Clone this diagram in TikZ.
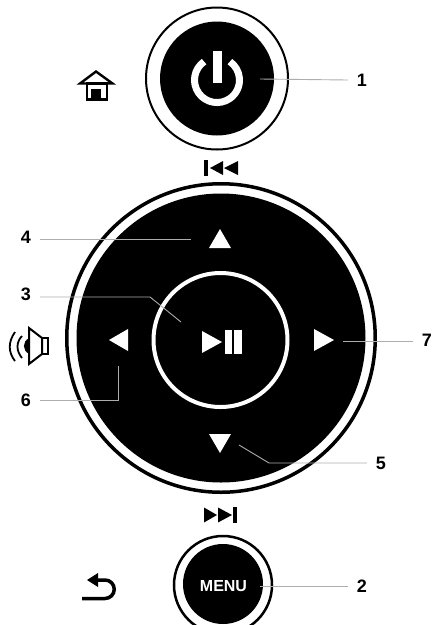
\documentclass[tikz,border=0pt]{standalone}
\usepackage{fontspec}
\setmainfont{Liberation Sans}
\tikzset{
  ring/.style={circle,draw=black,fill=white,inner sep=0pt,outer sep=0pt},
  pad/.style={circle,fill=black,inner sep=0pt,outer sep=0pt},
  callout/.style={draw=black!32,line width=0.9pt},
  num/.style={font=\bfseries\fontsize{18}{18}\selectfont,inner sep=0pt,outer sep=9pt},
  glyph/.style={fill=white,draw=none},
  icon/.style={fill=black,draw=none}
}
\begin{document}
\begin{tikzpicture}[x=1pt,y=-1pt]
  \useasboundingbox (0,0) rectangle (434,625);
  \clip (0,0) rectangle (434,625);
  % power button
  \node[ring,line width=2pt,minimum size=142pt] (powring) at (217,78.5) {};
  \node[pad,minimum size=114pt] (powpad) at (217,78.5) {};
  \draw[white,line width=7pt] (204.1,61.6) arc[start angle=235,end angle=-55,radius=22.5];
  \fill[glyph] (213,51) rectangle (222,83);
  % home
  \draw[line width=2.4pt,line join=miter] (80,83.5) -- (96,71.5) -- (112.5,83.5) -- cycle;
  \draw[line width=2.4pt] (87,83.5) rectangle (107,99.5);
  \fill[icon] (91,89) rectangle (101,99);
  % previous
  \fill[icon] (204,160) rectangle (208,176);
  \fill[icon] (210,168) -- (223,161) -- (223,175) -- cycle;
  \fill[icon] (224,168) -- (238,161) -- (238,175) -- cycle;
  % main wheel
  \node[ring,line width=3.5pt,minimum size=308.5pt] (wheel) at (221,338) {};
  \node[pad,minimum size=289pt] (wheelpad) at (221,338) {};
  \node[circle,draw=white,line width=4pt,minimum size=134pt,inner sep=0pt] (centre) at (220.5,340) {};
  \fill[glyph] (220,229) -- (231,248) -- (209,248) -- cycle;
  \fill[glyph] (220,453) -- (231,434) -- (209,434) -- cycle;
  \fill[glyph] (109,340) -- (128,329) -- (128,351) -- cycle;
  \fill[glyph] (334,340) -- (314,329) -- (314,351) -- cycle;
  \fill[glyph] (202,331) -- (222,342) -- (202,353) -- cycle;
  \fill[glyph] (225,330) rectangle (232,354);
  \fill[glyph] (234,330) rectangle (242,354);
  % speaker
  \fill[icon] (29.5,338) .. controls (22,341) and (22,351) .. (29.5,354) -- cycle;
  \draw[line width=2pt,line join=miter] (29,328) -- (42,338) -- (42,354) -- (29,364) -- cycle;
  \draw[line width=2pt] (42,338) rectangle (47.5,354);
  \draw[line width=1.8pt] (22,336) .. controls (16,342) and (16,351) .. (22,358);
  \draw[line width=1.8pt] (15,332) .. controls (8,342) and (8,352) .. (15,361);
  % next
  \fill[icon] (204,507.5) -- (217,515) -- (204,522.5) -- cycle;
  \fill[icon] (218,507.5) -- (232,515) -- (218,522.5) -- cycle;
  \fill[icon] (232.5,507) rectangle (237,523);
  % menu
  \node[ring,line width=2.5pt,minimum size=98pt] (menuring) at (223,585) {};
  \node[pad,minimum size=80pt] (menupad) at (223,584) {};
  \node[font=\bfseries\fontsize{16}{16}\selectfont,text=white,inner sep=0pt] (menu) at (223.5,586) {MENU};
  % back
  \fill[icon] (87,580) -- (98,573) -- (98,587) -- cycle;
  \draw[line width=3.5pt] (97,580) -- (105,580) arc[start angle=-90,end angle=90,radius=9.25] -- (82,598.5);
  % callouts
  \node[num] (n1) at (362,80) {1};
  \node[num] (n2) at (362,586) {2};
  \node[num] (n3) at (26,294) {3};
  \node[num] (n4) at (26,237) {4};
  \node[num] (n5) at (381,463) {5};
  \node[num] (n6) at (26,400) {6};
  \node[num] (n7) at (427,340) {7};
  \coordinate (c1) at (260,79);
  \coordinate (c2) at (260,586);
  \coordinate (c3) at (181,322);
  \coordinate (c4) at (191,239);
  \coordinate (c5) at (239,445);
  \coordinate (c6) at (118,366);
  \coordinate (c7) at (343,341);
  \draw[callout] (n1.west) -- (c1);
  \draw[callout] (n2.west) -- (c2);
  \draw[callout] (n3.east) ++(0,3) -- (150,297) -- (c3);
  \draw[callout] (n4.east) ++(0,2) -- (c4);
  \draw[callout] (n5.west) -- (269,463) -- (c5);
  \draw[callout] (n6.east) -- (118,400) -- (c6);
  \draw[callout] (n7.west) ++(0,1) -- (c7);
\end{tikzpicture}
\end{document}
